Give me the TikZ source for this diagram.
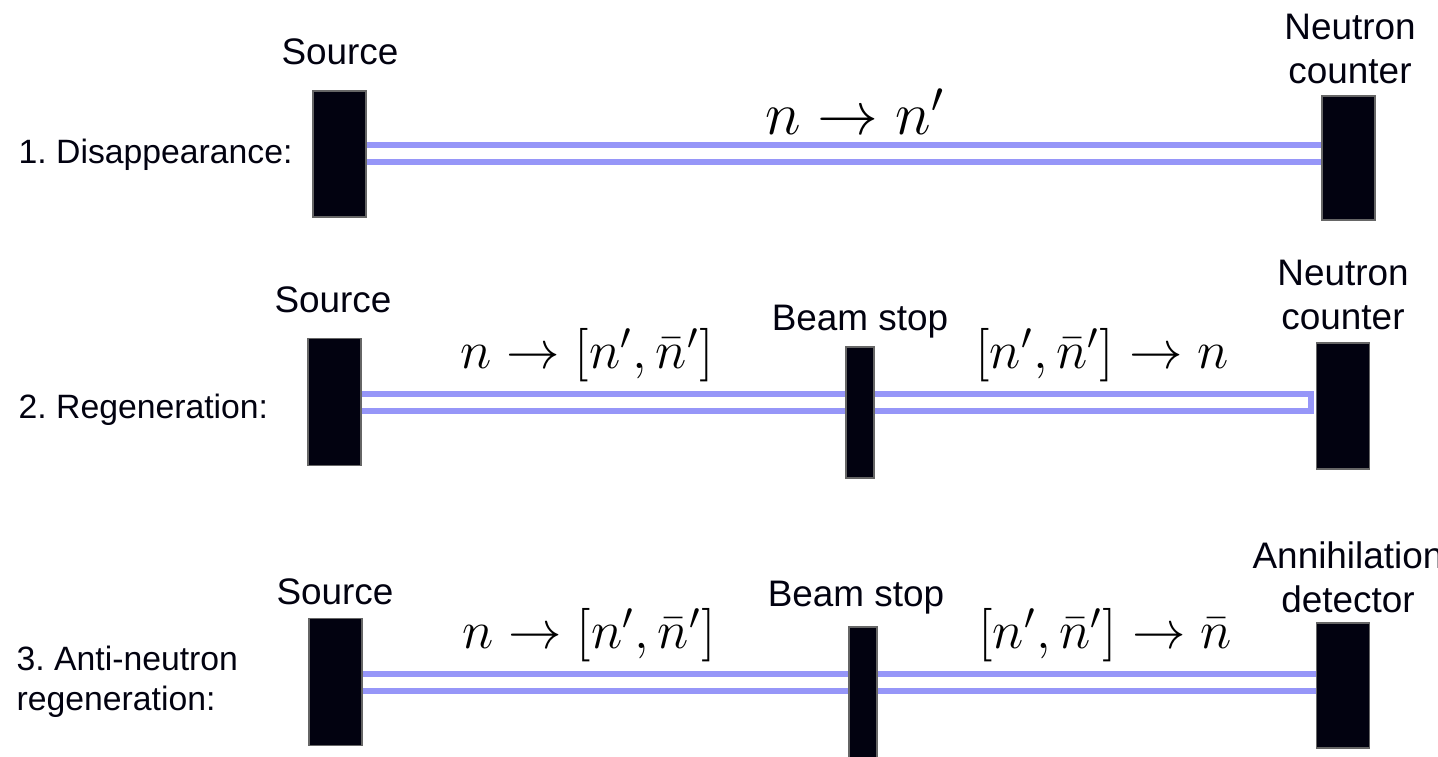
\RequirePackage{fix-cm}
\documentclass[tikz,border=0pt]{standalone}
\usepackage{amsmath}
\usepackage{fontspec}
\newfontfamily\helv{Liberation Sans}
\usetikzlibrary{positioning,calc,backgrounds}
\definecolor{beamblue}{RGB}{150,150,248}
\definecolor{inkblack}{RGB}{2,2,16}
\tikzset{
  blk/.style={rectangle,fill=inkblack,draw=black!60,line width=0.3pt,inner sep=0pt,minimum width=5.3mm,minimum height=12.6mm},
  stopblk/.style={blk,minimum width=2.8mm,minimum height=13.1mm},
  beam/.style={draw=beamblue,line width=0.6mm,double=white,double distance=1.1mm},
  lbl/.style={font=\helv\frenchspacing\fontsize{10.5}{12.5}\selectfont,inner sep=0pt,text=inkblack},
  rowlbl/.style={lbl,font=\helv\frenchspacing\fontsize{9.6}{11.4}\selectfont,anchor=west,align=left},
  eq/.style={font=\fontsize{15.2}{18}\selectfont,inner sep=0pt}
}
\begin{document}
\begin{tikzpicture}
    \useasboundingbox (0,0) rectangle (14.38,7.56);

    % === 1. Disappearance ===
    \node[rowlbl] (name1) at (0.18,6.01) {1. Disappearance:};
    \node[blk] (src1) at (3.395,6.02) {};
    \node[blk,minimum height=12.4mm] (det1) at (13.485,5.98) {};
    \node[lbl] (srclbl1) at (3.40,7.04) {Source};
    \node[lbl,align=center] (detlbl1) at (13.50,7.07) {Neutron\\counter};
    \node[eq,font=\fontsize{17.3}{21}\selectfont] (eq1) at (8.55,6.44) {$n \to n'$};

    % === 2. Regeneration ===
    \node[rowlbl] (name2) at (0.18,3.46) {2. Regeneration:};
    \node[blk,minimum height=12.7mm] (src2) at (3.345,3.54) {};
    \node[stopblk] (stop2) at (8.60,3.435) {};
    \node[blk] (det2) at (13.43,3.50) {};
    \node[lbl] (srclbl2) at (3.33,4.56) {Source};
    \node[lbl] (stoplbl2) at (8.60,4.34) {Beam stop};
    \node[lbl,align=center] (detlbl2) at (13.43,4.61) {Neutron\\counter};
    \node[eq] (eq2) at (5.87,4.01) {$n \to [n', \bar{n}']$};
    \node[eq] (eq3) at (11.02,4.01) {$[n', \bar{n}'] \to n$};

    % === 3. Anti-neutron regeneration ===
    \node[rowlbl] (name3) at (0.16,0.74) {3. Anti-neutron\\regeneration:};
    \node[blk,minimum height=12.7mm] (src3) at (3.355,0.74) {};
    \node[stopblk] (stop3) at (8.63,0.635) {};
    \node[blk,minimum height=12.5mm] (det3) at (13.43,0.705) {};
    \node[lbl] (srclbl3) at (3.35,1.64) {Source};
    \node[lbl] (stoplbl3) at (8.56,1.58) {Beam stop};
    \node[lbl,align=center] (detlbl3) at (13.48,1.79) {Annihilation\\detector};
    \node[eq] (eq4) at (5.89,1.21) {$n \to [n', \bar{n}']$};
    \node[eq] (eq5) at (11.05,1.21) {$[n', \bar{n}'] \to \bar{n}$};

    % beams behind the blocks
    \begin{scope}[on background layer]
    \draw[beam] (src1.center) -- (src1.center -| det1.center);
    \draw[beam] (src2.center) -- (src2.center -| stop2.center);
    \draw[beam,line cap=rect,shorten >=1.3mm] (src2.center -| stop2.center) -- (src2.center -| det2.west);
    \draw[beam] (src3.center) -- (src3.center -| det3.center);
    \end{scope}

\end{tikzpicture}
\end{document}
